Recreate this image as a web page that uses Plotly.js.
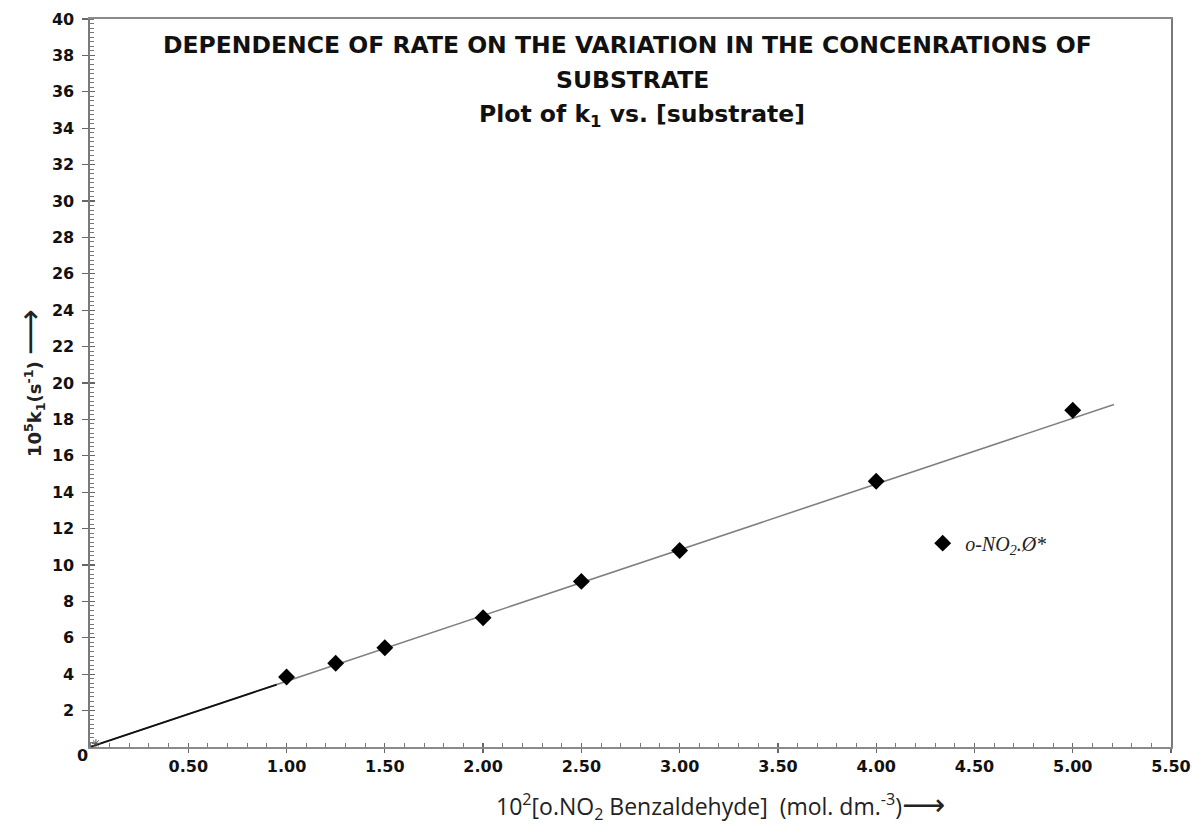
<!DOCTYPE html>
<html>
<head>
<meta charset="utf-8">
<script src="https://cdn.plot.ly/plotly-3.0.1.min.js"></script>
<style>
  html, body { margin: 0; padding: 0; background: #ffffff; }
  #chart { width: 1192px; height: 827px; }
</style>
</head>
<body>
<div id="chart"></div>
<script>
// ---- data ----
const concentration = [1.00, 1.25, 1.50, 2.00, 2.50, 3.00, 4.00, 5.00];
const k1Values = [3.85, 4.60, 5.45, 7.10, 9.10, 10.80, 14.60, 18.50];
const fitX = [0, 5.21];
const fitY = [0, 18.82];
const fitStartX = [0, 0.95];
const fitStartY = [0, 3.43];
const originX = [0.03];
const originY = [0.2];
const seriesName = "<i>o-NO<sub>2</sub>.Ø*</i>";
const xTickVals = [0.5, 1.0, 1.5, 2.0, 2.5, 3.0, 3.5, 4.0, 4.5, 5.0, 5.5];
const xTickText = ["0.50", "1.00", "1.50", "2.00", "2.50", "3.00", "3.50", "4.00", "4.50", "5.00", "5.50"];
const yTickVals = [2, 4, 6, 8, 10, 12, 14, 16, 18, 20, 22, 24, 26, 28, 30, 32, 34, 36, 38, 40];
const yTickText = ["2", "4", "6", "8", "10", "12", "14", "16", "18", "20", "22", "24", "26", "28", "30", "32", "34", "36", "38", "40"];
const titleLines = [
  "DEPENDENCE OF RATE ON THE VARIATION IN THE CONCENRATIONS OF",
  "SUBSTRATE",
  "Plot of k<sub>1</sub> vs. [substrate]"
];
const xTitle = "10<sup>2</sup>[o.NO<sub>2</sub> Benzaldehyde]  (mol. dm.<sup>-3</sup>)<span style=\"font-size:30px;font-weight:normal;font-family:DejaVu Sans\">⟶</span>";
const yTitle = "10<sup>5</sup>k<sub>1</sub>(s<sup>-1</sup>) <span style=\"font-size:32px;font-weight:normal\">⟶</span>";

const tickFont = {family: "DejaVu Sans, Arial, sans-serif", size: 16, color: "#111", weight: "bold"};
const titleFont = {family: "DejaVu Sans, Arial, sans-serif", size: 23.5, color: "#111", weight: "bold"};

const traces = [
  {x: fitX, y: fitY, type: "scatter", mode: "lines",
   line: {color: "#808080", width: 1.6}, showlegend: false, hoverinfo: "skip"},
  {x: fitStartX, y: fitStartY, type: "scatter", mode: "lines",
   line: {color: "#111111", width: 1.8}, showlegend: false, hoverinfo: "skip"},
  {x: originX, y: originY, type: "scatter", mode: "markers",
   marker: {symbol: "asterisk-open", size: 7, color: "#555", line: {color: "#555", width: 1}},
   showlegend: false, hoverinfo: "skip"},
  {x: concentration, y: k1Values, type: "scatter", mode: "markers", name: seriesName,
   marker: {symbol: "diamond", size: 13, color: "#000000"}},
  {x: [], y: [], xaxis: "x2", yaxis: "y2", type: "scatter", mode: "markers", showlegend: false, hoverinfo: "skip"}
];

const layout = {
  width: 1192, height: 827,
  margin: {l: 90, r: 21, t: 19, b: 80},
  paper_bgcolor: "#ffffff", plot_bgcolor: "#ffffff",
  showlegend: true,
  legend: {x: 0.768, y: 0.28, xanchor: "left", yanchor: "middle", itemwidth: 35,
           bgcolor: "rgba(0,0,0,0)", borderwidth: 0,
           font: {family: "Liberation Serif, DejaVu Serif, serif", size: 20, color: "#222", style: "italic"}},
  xaxis: {
    range: [0, 5.5], tickmode: "array", tickvals: xTickVals, ticktext: xTickText,
    ticks: "outside", ticklen: 4, tickwidth: 1.3, tickcolor: "#666",
    showline: true, linecolor: "#8a8a8a", linewidth: 1.6, mirror: true,
    showgrid: false, zeroline: false, tickfont: tickFont,
    minor: {dtick: 0.1, tick0: 0, ticks: "inside", ticklen: 4, tickcolor: "#777", tickwidth: 1}
  },
  yaxis: {
    range: [0, 40], tickmode: "array", tickvals: yTickVals, ticktext: yTickText,
    ticks: "outside", ticklen: 6, tickwidth: 1.3, tickcolor: "#666", ticklabelstandoff: 5,
    showline: true, linecolor: "#7a7a7a", linewidth: 1.6, mirror: true,
    showgrid: false, zeroline: false, tickfont: tickFont,
    minor: {dtick: 0.25, tick0: 0, ticks: "inside", ticklen: 4, tickcolor: "#777", tickwidth: 1}
  },
  xaxis2: {overlaying: "x", anchor: "y", side: "bottom", range: [0, 5.5],
           tickmode: "array", tickvals: xTickVals, ticks: "inside", ticklen: 4, tickwidth: 1.3, tickcolor: "#666",
           showticklabels: false, showline: false, showgrid: false, zeroline: false},
  yaxis2: {overlaying: "y", anchor: "x", side: "left", range: [0, 40],
           tickmode: "array", tickvals: yTickVals, ticks: "inside", ticklen: 5, tickwidth: 1.3, tickcolor: "#666",
           showticklabels: false, showline: false, showgrid: false, zeroline: false},
  annotations: [
    {text: titleLines[0], xref: "paper", yref: "paper", x: 0.4968, y: 0.9643, showarrow: false,
     xanchor: "center", yanchor: "middle", font: titleFont},
    {text: titleLines[1], xref: "paper", yref: "paper", x: 0.5023, y: 0.9162, showarrow: false,
     xanchor: "center", yanchor: "middle", font: titleFont},
    {text: titleLines[2], xref: "paper", yref: "paper", x: 0.5106, y: 0.8668, showarrow: false,
     xanchor: "center", yanchor: "middle", font: titleFont},
    {text: "0", xref: "paper", yref: "paper", x: -0.0074, y: -0.011, showarrow: false,
     xanchor: "center", yanchor: "middle", font: tickFont},
    {text: xTitle, xref: "paper", yref: "paper", x: 0.583, y: -0.081, showarrow: false,
     xanchor: "center", yanchor: "middle",
     font: {family: "Open Sans, Noto Sans, sans-serif", size: 23, color: "#222"}},
    {text: yTitle, xref: "paper", yref: "paper", x: -0.0555, y: 0.5, showarrow: false,
     textangle: -90, xanchor: "center", yanchor: "middle",
     font: {family: "DejaVu Sans, Arial, sans-serif", size: 18, color: "#222", weight: "bold"}}
  ]
};

Plotly.newPlot("chart", traces, layout, {displayModeBar: false, staticPlot: true});
</script>
</body>
</html>
